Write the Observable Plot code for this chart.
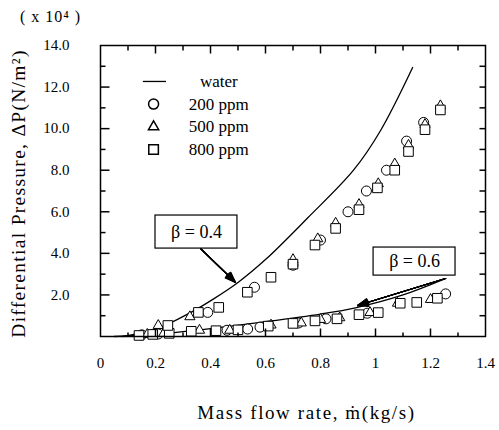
<!DOCTYPE html>
<html><head><meta charset="utf-8">
<script src="https://cdn.jsdelivr.net/npm/d3@7"></script>
<script src="https://cdn.jsdelivr.net/npm/@observablehq/plot@0.6"></script>
<style>
body{margin:0;background:#fff;}
svg text{font-family:"Liberation Serif","Times New Roman",serif;}
</style></head><body><div id="chart"></div>
<script>
// ---- tick values ----
const xTicks = [0, 0.2, 0.4, 0.6, 0.8, 1, 1.2, 1.4];
const yTicks = [2, 4, 6, 8, 10, 12, 14];
const xMajor = [0.2, 0.4, 0.6, 0.8, 1, 1.2];
const xMinor = [0.1, 0.3, 0.5, 0.7, 0.9, 1.1, 1.3];
const yMajor = [2, 4, 6, 8, 10, 12];
const yMinor = [1, 3, 5, 7, 9, 11, 13];

// ---- water curves ----
const waterHiX = [0.08, 0.2, 0.327, 0.41, 0.5, 0.6, 0.753, 0.92, 1.018, 1.135];
const waterHiY = [0.0, 0.35, 1.15, 1.8, 2.6, 3.7, 5.7, 8.0, 9.9, 12.94];
const waterLoX = [0.05, 0.2, 0.35, 0.574, 0.8, 0.927, 1.1, 1.247];
const waterLoY = [0.0, 0.1, 0.3, 0.67, 1.08, 1.38, 2.0, 2.75];

// ---- 200 ppm (circles) ----
const c200X = [0.15, 0.21, 0.46, 0.535, 0.58, 0.72, 0.82, 0.97, 1.255,
               0.39, 0.56, 0.70, 0.80, 0.90, 0.967, 1.04, 1.113, 1.175];
const c200Y = [0.08, 0.12, 0.3, 0.36, 0.45, 0.65, 0.85, 1.12, 2.05,
               1.16, 2.37, 3.43, 4.64, 6.0, 7.0, 8.0, 9.4, 10.3];
// ---- 500 ppm (triangles) ----
const c500X = [0.17, 0.23, 0.36, 0.47, 0.62, 0.73, 0.80, 0.87, 0.98, 1.08, 1.20,
               0.21, 0.325, 0.70, 0.79, 0.855, 0.94, 1.01, 1.07, 1.12, 1.18, 1.236];
const c500Y = [0.1, 0.15, 0.3, 0.3, 0.55, 0.65, 0.82, 0.9, 1.15, 1.6, 1.78,
               0.53, 0.95, 3.7, 4.7, 5.45, 6.35, 7.35, 8.3, 9.2, 10.2, 11.1];
// ---- 800 ppm (squares) ----
const c800X = [0.14, 0.19, 0.25, 0.33, 0.42, 0.50, 0.61, 0.70, 0.78, 0.86, 0.94, 1.01, 1.09, 1.15, 1.225,
               0.245, 0.356, 0.43, 0.534, 0.62, 0.70, 0.78, 0.855, 0.94, 1.007, 1.07, 1.12, 1.18, 1.236];
const c800Y = [0.05, 0.1, 0.15, 0.25, 0.28, 0.32, 0.5, 0.63, 0.75, 0.85, 1.05, 1.15, 1.6, 1.64, 1.84,
               0.53, 1.16, 1.4, 2.13, 2.85, 3.48, 4.4, 5.2, 6.1, 7.15, 8.0, 8.9, 9.95, 10.9];

// ---- legend & annotations ----
const legendLabels = ["water", "200 ppm", "500 ppm", "800 ppm"];
const betaLabels = ["β = 0.4", "β = 0.6"];
const betaBoxX1 = [0.2, 0.993], betaBoxX2 = [0.498, 1.291];
const betaBoxY1 = [4.23, 2.93], betaBoxY2 = [5.82, 4.28];
const arrowX1 = [0.364, 1.255], arrowY1 = [4.23, 2.79];
const arrowX2 = [0.491, 0.935], arrowY2 = [2.6, 1.49];
const xTitle = "Mass flow rate, ṁ(kg/s)";
const yTitle = "Differential Pressure, ΔP(N/m²)";
const unitTitle = "( x 10⁴ )";

const pts = (xs, ys) => xs.map((x, i) => ({x, y: ys[i]}));
const W = 499, H = 430, ML = 100, MR = 14, MT = 45, MB = 94;
const FW = W - ML - MR, FH = H - MT - MB;
const XMAX = 1.4, YMAX = 14;
const px = XMAX / FW, py = YMAX / FH; // data units per pixel
const ink = "black";

const legendY = legendLabels.map((d, i) => 12.27 - 1.09 * i);
const boxes = betaLabels.map((t, i) => ({t, x1: betaBoxX1[i], x2: betaBoxX2[i], y1: betaBoxY1[i], y2: betaBoxY2[i]}));
const arrows = arrowX1.map((d, i) => ({x1: arrowX1[i], y1: arrowY1[i], x2: arrowX2[i], y2: arrowY2[i]}));
const headAngles = [6, 12, 18, 24, 30, 36, 42];

// inward tick segments, lengths in pixels converted to data units
const vTick = (vals, base, len) => vals.map(v => ({x1: v, x2: v, y1: base, y2: base + len * py * (base === 0 ? 1 : -1)}));
const hTick = (vals, base, len) => vals.map(v => ({y1: v, y2: v, x1: base, x2: base + len * px * (base === 0 ? 1 : -1)}));
const tickSegs = [
  ...vTick(xMajor, 0, 8), ...vTick(xMajor, YMAX, 8),
  ...vTick(xMinor, 0, 4), ...vTick(xMinor, YMAX, 5),
  ...hTick(yMajor, 0, 9), ...hTick(yMinor, 0, 5),
  ...hTick(yMajor.concat(yMinor), XMAX, 6)
];

const chart = Plot.plot({
  width: W, height: H,
  marginLeft: ML, marginRight: MR, marginTop: MT, marginBottom: MB,
  style: {fontFamily: "Liberation Serif", fontSize: "15px", color: ink, background: "white"},
  x: {domain: [0, XMAX]},
  y: {domain: [0, YMAX]},
  marks: [
    Plot.axisX(xTicks, {tickSize: 0, tickPadding: 21, tickFormat: d => String(d), label: null, fontSize: 15}),
    Plot.axisY(yTicks, {tickSize: 0, tickPadding: 31, tickFormat: d => d.toFixed(1), label: null, fontSize: 15}),
    // water curves
    Plot.line(pts(waterHiX, waterHiY), {x: "x", y: "y", curve: "catmull-rom", stroke: ink, strokeWidth: 1.3}),
    Plot.line(pts(waterLoX, waterLoY), {x: "x", y: "y", curve: "catmull-rom", stroke: ink, strokeWidth: 1.3}),
    // data points
    Plot.dot(pts(c200X, c200Y), {x: "x", y: "y", symbol: "circle", r: 5, stroke: ink, fill: "white", strokeWidth: 1}),
    Plot.dot(pts(c500X, c500Y), {x: "x", y: "y", symbol: "triangle", r: 3.8, stroke: ink, fill: "white", strokeWidth: 1}),
    Plot.dot(pts(c800X, c800Y), {x: "x", y: "y", symbol: "square", r: 5.4, stroke: ink, fill: "white", strokeWidth: 1}),
    // legend
    Plot.ruleY([legendY[0]], {x1: 0.156, x2: 0.24, stroke: ink, strokeWidth: 1.3}),
    Plot.dot([legendY[1]], {x: 0.193, y: d => d, symbol: "circle", r: 5, stroke: ink, fill: "white"}),
    Plot.dot([legendY[2]], {x: 0.193, y: d => d, symbol: "triangle", r: 3.8, stroke: ink, fill: "white"}),
    Plot.dot([legendY[3]], {x: 0.193, y: d => d, symbol: "square", r: 5.4, stroke: ink, fill: "white"}),
    Plot.text(legendLabels, {x: 0.43, y: (d, i) => legendY[i], text: d => d, textAnchor: "middle", fontSize: 17, fill: ink}),
    // annotations
    ...headAngles.map(a => Plot.arrow(arrows, {x1: "x1", y1: "y1", x2: "x2", y2: "y2", headAngle: a, headLength: 14, stroke: ink, strokeWidth: 1.2})),
    Plot.rect(boxes, {x1: "x1", x2: "x2", y1: "y1", y2: "y2", fill: "white", stroke: ink, strokeWidth: 1.2}),
    Plot.text(boxes, {x: d => (d.x1 + d.x2) / 2, y: d => (d.y1 + d.y2) / 2, text: "t", fontSize: 18, fill: ink}),
    // axis titles
    Plot.text([xTitle], {text: d => d, frameAnchor: "bottom", textAnchor: "middle", lineAnchor: "middle", dx: 13.5, dy: 76, fontSize: 19, fill: ink}),
    Plot.text([yTitle], {text: d => d, frameAnchor: "left", textAnchor: "middle", lineAnchor: "middle", rotate: -90, dx: -82, dy: 2.5, fontSize: 19.5, fill: ink}),
    Plot.text([unitTitle], {text: d => d, frameAnchor: "top-left", textAnchor: "middle", lineAnchor: "middle", dx: -50, dy: -29, fontSize: 16, fill: ink}),
    // frame and inward ticks on top
    Plot.link(tickSegs, {x1: "x1", x2: "x2", y1: "y1", y2: "y2", stroke: ink, strokeWidth: 1.5}),
    Plot.frame({stroke: ink, strokeWidth: 1.5})
  ]
});
const spacing = {[xTitle]: "1.6px", [yTitle]: "1.3px", [unitTitle]: "1px"};
d3.select(chart).selectAll("text").each(function () {
  const s = spacing[this.textContent];
  if (s) this.style.letterSpacing = s;
});
document.getElementById("chart").appendChild(chart);
</script></body></html>
